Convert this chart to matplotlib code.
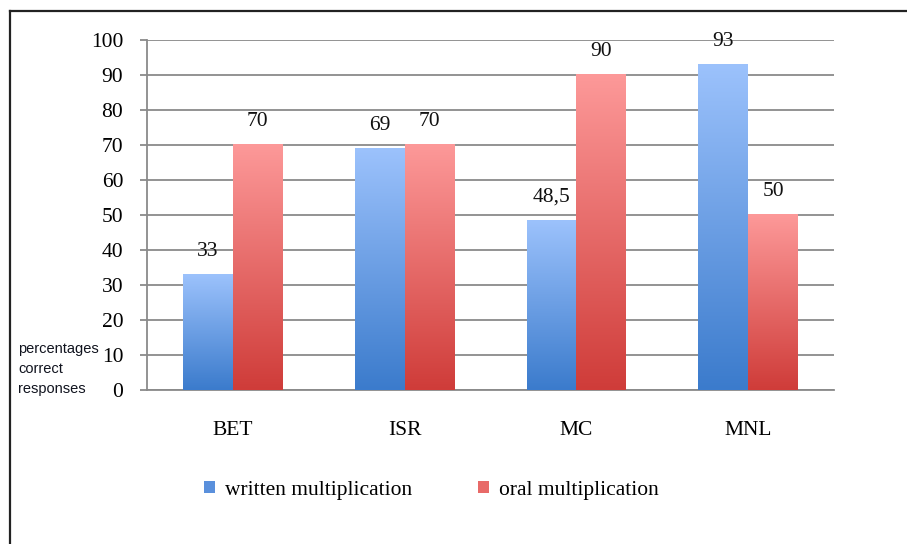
import matplotlib
matplotlib.use('Agg')
import matplotlib.pyplot as plt
import numpy as np
from matplotlib.colors import LinearSegmentedColormap
from matplotlib.lines import Line2D
from matplotlib.patches import Rectangle

categories = ['BET', 'ISR', 'MC', 'MNL']
written = [33, 69, 48.5, 93]
oral = [70, 70, 90, 50]
written_labels = ['33', '69', '48,5', '93']
oral_labels = ['70', '70', '90', '50']
series_names = ['written multiplication', 'oral multiplication']
y_ticks = [0, 10, 20, 30, 40, 50, 60, 70, 80, 90, 100]

_blue = ('#3b7bcc', '#9cc2fc')
_red = ('#cf3c39', '#fd9999')
_grid = '#8a8a8a'

plt.rcParams['font.family'] = ['Liberation Serif', 'DejaVu Serif']


def _gradient_bars(ax, rects, colours):
    # Excel style fill: every bar gets its own bottom-to-top gradient
    cmap = LinearSegmentedColormap.from_list('grad', colours)
    grad = np.linspace(1, 0, 256).reshape(-1, 1)
    for rect in rects:
        x0, y0 = rect.get_x(), rect.get_y()
        w, h = rect.get_width(), rect.get_height()
        ax.imshow(grad, cmap=cmap, aspect='auto', zorder=3,
                  extent=(x0, x0 + w, y0, y0 + h), interpolation='bicubic')


def _label_bars(ax, rects, labels):
    for rect, text in zip(rects, labels):
        ax.annotate(text, (rect.get_x() + rect.get_width() / 2, rect.get_height()),
                    xytext=(0, 10), textcoords='offset points',
                    ha='center', va='bottom', fontsize=15.5, color='#111111',
                    zorder=5)


fig = plt.figure(figsize=(9.07, 5.44), dpi=100)
ax = fig.add_axes([0.162, 0.283, 0.7575, 0.6435])

x = np.arange(len(categories))
width = 0.29
blue_rects = ax.bar(x - width / 2, written, width, color='none', zorder=3)
red_rects = ax.bar(x + width / 2, oral, width, color='none', zorder=3)
_gradient_bars(ax, blue_rects, _blue)
_gradient_bars(ax, red_rects, _red)
_label_bars(ax, blue_rects, written_labels)
_label_bars(ax, red_rects, oral_labels)

ax.set_xlim(-0.5, len(categories) - 0.5)
ax.set_ylim(0, 100)
ax.set_yticks(y_ticks)
ax.set_xticks(x)
ax.set_xticklabels(categories)
ax.yaxis.grid(True, color=_grid, linewidth=1.3, zorder=0)
ax.set_axisbelow(True)
for side in ('top', 'right'):
    ax.spines[side].set_visible(False)
for side in ('left', 'bottom'):
    ax.spines[side].set_color(_grid)
    ax.spines[side].set_linewidth(1.3)
ax.tick_params(axis='y', length=5, width=1.3, color=_grid, pad=12, labelsize=15.5)
ax.tick_params(axis='x', length=0, pad=22, labelsize=15.5)

fig.text(0.020, 0.322, 'percentages\ncorrect\nresponses', fontsize=10.5,
         family=['Liberation Sans', 'DejaVu Sans'], va='center', ha='left',
         linespacing=1.55, color='#10131e')

handles = [Rectangle((0, 0), 1, 1, facecolor='#5a90dc', edgecolor='none'),
           Rectangle((0, 0), 1, 1, facecolor='#e86a68', edgecolor='none')]
fig.legend(handles, series_names, loc='center left', bbox_to_anchor=(0.225, 0.099),
           ncol=2, frameon=False, fontsize=15.5, handlelength=0.5, handleheight=0.5,
           handletextpad=0.45, columnspacing=3.1, borderpad=0, borderaxespad=0)

# outer frame, only the top and left edges are inside the picture
fig.add_artist(Line2D([0.0105, 0.0105], [0, 0.98], color='#222222', linewidth=1.6))
fig.add_artist(Line2D([0.0105, 1], [0.98, 0.98], color='#222222', linewidth=1.6))

fig.savefig('out.png', dpi=100)
